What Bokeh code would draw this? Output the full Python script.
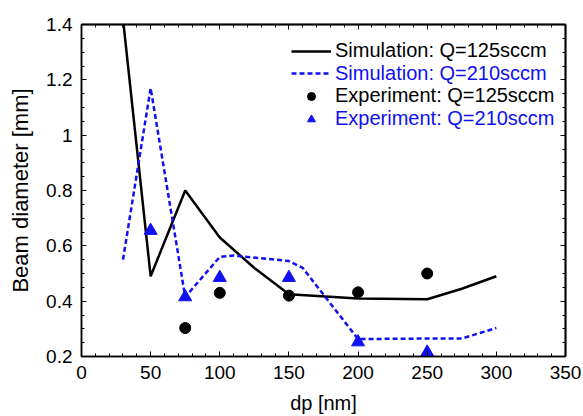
from bokeh.plotting import figure
from bokeh.models import (LinearAxis, Legend, LegendItem, CustomJSTickFormatter,
                          Range1d, FixedTicker)
from bokeh.embed import file_html
from bokeh.resources import INLINE

# Simulation curves
sim125_dp = [30, 50, 75, 100, 125, 150, 200, 250, 275, 300]
sim125_d = [1.42, 0.49, 0.80, 0.63, 0.52, 0.425, 0.41, 0.407, 0.445, 0.49]
sim210_dp = [30, 50, 75, 100, 110, 150, 160, 200, 250, 275, 300]
sim210_d = [0.55, 1.17, 0.415, 0.56, 0.565, 0.545, 0.52, 0.263, 0.265, 0.265, 0.303]
# Experiments
exp125_dp = [75, 100, 150, 200, 250]
exp125_d = [0.303, 0.43, 0.42, 0.432, 0.50]
exp210_dp = [50, 75, 100, 150, 200, 250]
exp210_d = [0.655, 0.415, 0.485, 0.485, 0.252, 0.215]

x_major = [0, 50, 100, 150, 200, 250, 300, 350]
y_major = [0.2, 0.4, 0.6, 0.8, 1.0, 1.2, 1.4]

FONT = "Liberation Sans"
BLUE = "#1010f0"

p = figure(width=583, height=416, output_backend="svg", toolbar_location=None,
           x_range=Range1d(0, 350), y_range=Range1d(0.2, 1.4),
           min_border_left=81, min_border_right=18, min_border_top=24,
           min_border_bottom=60)
p.grid.visible = False
p.outline_line_color = "black"
p.outline_line_width = 1.5

r1 = p.line(sim125_dp, sim125_d, line_color="black", line_width=2.5)
r2 = p.line(sim210_dp, sim210_d, line_color=BLUE, line_width=2.5, line_dash="5 3")
r3 = p.scatter(exp125_dp, exp125_d, marker="circle", size=11, color="black")
r4 = p.scatter(exp210_dp, exp210_d, marker="triangle", size=13, color=BLUE)

x_minor = [v for v in range(0, 351, 10)]
y_minor = [round(0.2 + 0.05 * i, 2) for i in range(25)]
xt = FixedTicker(ticks=x_major, minor_ticks=x_minor)
yt = FixedTicker(ticks=y_major, minor_ticks=y_minor)

def base(ax):
    ax.axis_line_color = "black"
    ax.axis_line_width = 1.5
    ax.major_tick_in = 5
    ax.major_tick_out = 0
    ax.minor_tick_in = 3
    ax.minor_tick_out = 0
    ax.major_tick_line_color = "black"
    ax.minor_tick_line_color = "black"
    ax.major_label_text_font = FONT
    ax.major_label_text_color = "black"
    ax.major_label_text_font_size = "19px"
    ax.axis_label_text_font = FONT
    ax.axis_label_text_font_style = "normal"
    ax.axis_label_text_color = "black"

p.xaxis.ticker = xt
p.yaxis.ticker = yt
p.xaxis.axis_label = "dp [nm]"
p.yaxis.axis_label = "Beam diameter [mm]"
base(p.xaxis[0])
base(p.yaxis[0])
p.xaxis.axis_label_text_font_size = "20px"
p.yaxis.axis_label_text_font_size = "22px"
p.xaxis.major_label_standoff = 9
p.xaxis.axis_label_standoff = 10
p.yaxis.major_label_standoff = 9
p.yaxis.axis_label_standoff = 10
p.yaxis.formatter = CustomJSTickFormatter(code="return (Math.round(tick*10)/10).toString();")

# Mirror ticks on top and right (no labels): minor-only axes
def mirror(minor_vals, major_vals, side):
    a = LinearAxis(ticker=FixedTicker(ticks=[], minor_ticks=minor_vals))
    b = LinearAxis(ticker=FixedTicker(ticks=[], minor_ticks=major_vals))
    for ax, ln in ((a, 3), (b, 5)):
        base(ax)
        ax.minor_tick_in = ln
        ax.major_label_standoff = 0
        p.add_layout(ax, side)

mirror(x_minor, x_major, "above")
mirror(y_minor, y_major, "right")

entries = [("Simulation: Q=125sccm", r1, "black"),
           ("Simulation: Q=210sccm", r2, BLUE),
           ("Experiment: Q=125sccm", r3, "black"),
           ("Experiment: Q=210sccm", r4, BLUE)]
frame_h = 416 - 24 - 60
for i, (lab, r, col) in enumerate(entries):
    lg = Legend(items=[LegendItem(label=lab, renderers=[r])],
                location=(210, frame_h - 38 - i * 22.7),
                label_text_font=FONT, label_text_font_size="20px",
                label_text_color=col, glyph_width=40, glyph_height=20,
                label_height=20, label_standoff=4, padding=0, margin=0,
                spacing=0, background_fill_alpha=0, border_line_alpha=0)
    p.add_layout(lg, "center")

open("out.html", "w").write(file_html(p, INLINE))
